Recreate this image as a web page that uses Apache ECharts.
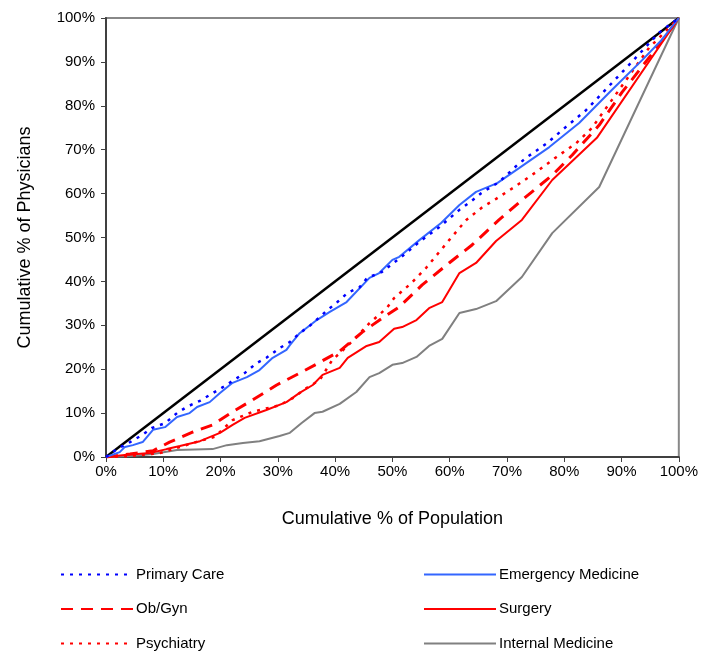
<!DOCTYPE html>
<html>
<head>
<meta charset="utf-8">
<script src="https://cdn.jsdelivr.net/npm/echarts@6/dist/echarts.min.js"></script>
<style>
html,body{margin:0;padding:0;background:#fff;}
#chart{width:701px;height:654px;}
</style>
</head>
<body>
<div id="chart"></div>
<script>
// Tick labels
var xTicks = [0,10,20,30,40,50,60,70,80,90,100];
var yTicks = [0,10,20,30,40,50,60,70,80,90,100];

// Series names
var legendLeft = ['Primary Care','Ob/Gyn','Psychiatry'];
var legendRight = ['Emergency Medicine','Surgery','Internal Medicine'];

// Equality line
var equality = [[0,0],[100,100]];

// Each series: [cumulative % of population, cumulative % of physicians]
var primaryCare = [[0,0],[1.9,1.8],[4.2,3.4],[6.3,5.0],[8.0,6.6],[10.3,7.7],[12.4,10.0],[14.1,11.4],[16.4,12.8],[20.4,15.9],[24.2,19.1],[26.3,21.4],[28.0,22.6],[30.3,24.8],[32.1,26.2],[33.8,28.2],[35.5,29.8],[38.7,33.5],[40.4,35.3],[42.2,37.4],[44.3,38.7],[45.6,40.8],[48.1,42.1],[51.6,45.6],[54.7,49.0],[58.2,52.4],[61.7,56.3],[63.8,58.3],[65.5,60.1],[67.2,61.5],[68.6,62.6],[71.8,66.5],[73.5,68.3],[75.6,70.2],[77.0,71.5],[80.3,75.2],[83.8,79.0],[90.8,88.6],[96.5,96.6],[100,100]];

var emergency = [[0,0],[2.4,1.1],[3.3,2.3],[4.7,2.7],[6.4,3.4],[8.2,6.2],[10.3,6.8],[12.4,9.1],[14.6,10.0],[15.9,11.4],[18.1,12.5],[19.9,14.6],[22.1,16.9],[24.6,18.2],[26.8,19.8],[29.1,22.6],[31.5,24.4],[32.1,25.5],[33.8,28.2],[35.0,29.4],[36.8,31.2],[39.0,33.0],[42.0,35.3],[46.0,40.8],[47.7,41.9],[50.0,44.9],[51.2,45.6],[54.7,49.4],[58.5,53.3],[61.7,57.4],[64.6,60.4],[68.3,62.4],[72.1,65.8],[77.4,70.6],[82.6,76.1],[88.3,83.6],[93.6,90.4],[97.0,95.0],[100,100]];

var obgyn = [[0,0],[4.2,0.7],[8.2,1.4],[11.1,3.4],[15.2,5.7],[18.6,7.3],[22.1,10.3],[25.6,13.0],[29.8,16.4],[33.8,19.1],[36.8,21.2],[40.8,24.1],[44.8,28.5],[48.3,31.7],[51.2,34.2],[55.2,39.2],[59.9,44.2],[63.9,48.3],[68.6,54.0],[72.6,58.5],[77.9,64.2],[81.4,68.8],[86.1,75.6],[90.1,83.1],[96.5,93.8],[100,100]];

var surgery = [[0,0],[3.7,0.5],[7.7,0.9],[10.6,1.8],[12.9,2.5],[16.4,3.6],[19.9,5.5],[22.1,7.3],[24.2,8.9],[28.0,10.7],[31.5,12.5],[33.8,14.6],[36.1,16.4],[37.8,18.7],[40.8,20.3],[42.2,22.6],[45.5,25.3],[47.7,26.2],[50.3,29.2],[51.7,29.6],[54.2,31.2],[56.4,33.9],[58.7,35.3],[61.7,41.9],[64.6,44.2],[68.1,49.2],[72.6,54.0],[77.9,63.1],[85.7,72.7],[100,100]];

var psychiatry = [[0,0],[4.2,0.2],[9.4,0.9],[15.2,3.2],[19.0,4.6],[22.1,8.4],[25.6,10.3],[30.3,11.8],[32.6,13.4],[35.0,15.7],[37.3,17.5],[39.5,22.1],[42.0,25.1],[43.7,27.3],[46.0,30.5],[49.0,33.9],[50.3,36.2],[53.3,39.6],[55.9,43.1],[59.9,49.4],[62.9,54.0],[65.7,56.9],[68.1,58.8],[71.3,61.5],[75.1,64.9],[78.6,68.3],[82.1,71.5],[84.8,74.9],[94.8,93.2],[100,100]];

var internalMed = [[0,0],[4.2,0.2],[8.2,0.7],[12.4,1.6],[18.6,1.8],[21.1,2.7],[23.9,3.2],[26.8,3.6],[30.3,4.8],[32.1,5.5],[34.1,7.7],[36.4,10.0],[37.8,10.3],[40.8,12.1],[43.7,14.8],[46.0,18.2],[47.7,19.1],[50.0,21.0],[51.7,21.4],[54.2,22.8],[56.4,25.3],[58.7,26.9],[61.7,32.8],[64.6,33.7],[68.1,35.5],[72.6,41.0],[77.9,51.0],[86.1,61.5],[100,100]];

var FONT = 'Arial, "Liberation Sans", sans-serif';

function line(name, data, color, width, type) {
  return {
    name: name, type: 'line', data: data, symbol: 'none', showSymbol: false, smooth: false,
    animation: false,
    lineStyle: {color: color, width: width, type: type},
    itemStyle: {color: color},
    emphasis: {disabled: true}
  };
}

var chart = echarts.init(document.getElementById('chart'), null, {renderer: 'canvas'});
var legendCommon = {
  orient: 'vertical', itemWidth: 72, itemHeight: 14, itemGap: 19.5, height: 120,
  textStyle: {fontFamily: FONT, fontSize: 15, color: '#000', padding: [0,0,0,-2]},
  itemStyle: {opacity: 0},
  selectedMode: false
};
chart.setOption({
  animation: false,
  backgroundColor: '#fff',
  grid: {left: 106, right: 21, top: 18, bottom: 197, show: true, borderColor: '#888', borderWidth: 2},
  xAxis: {
    type: 'value', min: 0, max: 100, interval: 10,
    name: 'Cumulative % of Population', nameLocation: 'middle', nameGap: 53,
    nameTextStyle: {fontFamily: FONT, fontSize: 18, color: '#000'},
    axisLine: {show: true, lineStyle: {color: '#404040', width: 2}},
    axisTick: {show: true, length: 5, lineStyle: {color: '#404040', width: 1}},
    axisLabel: {fontFamily: FONT, fontSize: 15, color: '#000', margin: 7, formatter: function(v){return v + '%';}},
    splitLine: {show: false}
  },
  yAxis: {
    type: 'value', min: 0, max: 100, interval: 10,
    name: 'Cumulative % of Physicians', nameLocation: 'middle', nameGap: 72,
    nameTextStyle: {fontFamily: FONT, fontSize: 18, color: '#000'},
    axisLine: {show: true, lineStyle: {color: '#404040', width: 2}},
    axisTick: {show: true, length: 5, lineStyle: {color: '#404040', width: 1}},
    axisLabel: {fontFamily: FONT, fontSize: 15, color: '#000', margin: 11, formatter: function(v){return v + '%';}},
    splitLine: {show: false}
  },
  legend: [
    Object.assign({left: 55, top: 562, data: legendLeft}, legendCommon),
    Object.assign({left: 418, top: 562, data: legendRight}, legendCommon)
  ],
  series: [
    line('Equality', equality, '#000000', 2.5, 'solid'),
    line('Internal Medicine', internalMed, '#808080', 2, 'solid'),
    line('Surgery', surgery, '#ff0000', 2, 'solid'),
    line('Ob/Gyn', obgyn, '#ff0000', 3, [12, 8]),
    line('Psychiatry', psychiatry, '#ff0000', 2.5, [3, 6]),
    line('Emergency Medicine', emergency, '#3366ff', 2, 'solid'),
    line('Primary Care', primaryCare, '#0000ff', 2.5, [3, 6])
  ]
});
</script>
</body>
</html>
